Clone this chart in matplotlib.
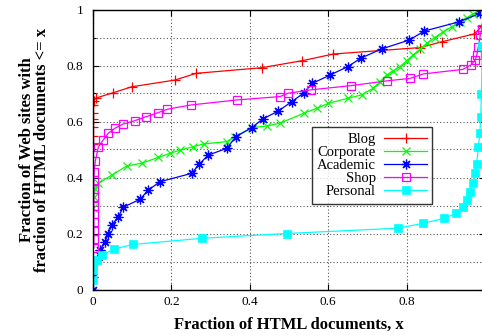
import matplotlib
matplotlib.use("Agg")
import matplotlib.pyplot as plt
from matplotlib.ticker import MultipleLocator

plt.rcParams['font.family'] = ['Liberation Serif', 'DejaVu Serif']

# ---- data ----
blog_x = [0, 0, 0, 0, 0, 0, 0.002, 0.008, 0.052, 0.099, 0.209, 0.263, 0.430,
          0.533, 0.613, 0.834, 0.891, 0.973, 0.992, 1.0]
blog_y = [0.52, 0.55, 0.58, 0.61, 0.63, 0.66, 0.675, 0.684, 0.703, 0.724, 0.748,
          0.772, 0.792, 0.817, 0.841, 0.864, 0.885, 0.913, 0.94, 1.0]

corp_x = [0, 0.002, 0.006, 0.014, 0.048, 0.086, 0.124, 0.167, 0.196, 0.222, 0.256,
          0.283, 0.341, 0.362, 0.405, 0.443, 0.477, 0.537, 0.571, 0.600, 0.651,
          0.685, 0.715, 0.732, 0.749, 0.766, 0.783, 0.800, 0.817, 0.834, 0.851,
          0.872, 0.894, 0.915, 0.936, 0.953, 0.970, 0.987, 1.0]
corp_y = [0.29, 0.33, 0.36, 0.379, 0.409, 0.441, 0.451, 0.472, 0.486, 0.498, 0.51,
          0.52, 0.528, 0.546, 0.578, 0.584, 0.594, 0.629, 0.647, 0.665, 0.683,
          0.695, 0.719, 0.742, 0.766, 0.781, 0.796, 0.817, 0.838, 0.858, 0.879,
          0.90, 0.921, 0.938, 0.956, 0.97, 0.984, 0.989, 1.0]

acad_x = [0, 0.001, 0.009, 0.018, 0.031, 0.039, 0.048, 0.065, 0.077, 0.12, 0.141,
          0.171, 0.252, 0.271, 0.294, 0.341, 0.365, 0.405, 0.433, 0.473, 0.507,
          0.537, 0.559, 0.605, 0.650, 0.683, 0.736, 0.807, 0.845, 0.934, 0.987, 1.0]
acad_y = [0.0, 0.046, 0.105, 0.141, 0.171, 0.2, 0.23, 0.26, 0.294, 0.322, 0.355,
          0.385, 0.415, 0.448, 0.48, 0.504, 0.546, 0.578, 0.609, 0.6375, 0.671,
          0.701, 0.736, 0.766, 0.796, 0.826, 0.859, 0.891, 0.923, 0.956, 0.986, 1.0]

shop_x = [0.002, 0.002, 0.002, 0.002, 0.002, 0.002, 0.002, 0.002, 0.002, 0.003,
          0.006, 0.014, 0.026, 0.039, 0.056, 0.077, 0.107, 0.135, 0.165, 0.19,
          0.25, 0.367, 0.477, 0.498, 0.555, 0.658, 0.749, 0.809, 0.843, 0.943,
          0.964, 0.975, 0.979, 0.983, 0.988, 0.992, 1.0]
shop_y = [0.15, 0.18, 0.21, 0.24, 0.27, 0.30, 0.33, 0.36, 0.39, 0.42,
          0.46, 0.51, 0.534, 0.558, 0.576, 0.591, 0.603, 0.617, 0.631, 0.644,
          0.659, 0.677, 0.689, 0.701, 0.713, 0.728, 0.745, 0.754, 0.77, 0.786,
          0.802, 0.82, 0.837, 0.867, 0.909, 0.93, 1.0]

pers_x = [0, 0, 0.001, 0.01, 0.023, 0.054, 0.103, 0.279, 0.494, 0.779, 0.841, 0.896,
          0.926, 0.945, 0.953, 0.962, 0.97, 0.974, 0.979, 0.983, 0.987, 0.989,
          0.991, 0.993, 1.0]
pers_y = [0.035, 0.07, 0.0875, 0.105, 0.123, 0.145, 0.161, 0.183, 0.2, 0.219, 0.236,
          0.254, 0.272, 0.296, 0.32, 0.349, 0.379, 0.415, 0.45, 0.51, 0.558, 0.617,
          0.7, 0.87, 1.0]

x_ticks = [0, 0.2, 0.4, 0.6, 0.8]
x_tick_labels = ['0', '0.2', '0.4', '0.6', '0.8']
y_ticks = [0, 0.2, 0.4, 0.6, 0.8, 1]
y_tick_labels = ['0', '0.2', '0.4', '0.6', '0.8', '1']

# ---- figure ----
W, H = 482, 336
fig = plt.figure(figsize=(W / 100, H / 100), dpi=100)
ax = fig.add_axes([93 / W, (H - 289.5) / H, 392 / W, 280 / H])

lw = 0.9
ax.plot(blog_x, blog_y, color='#ff0000', lw=lw, marker='+', ms=7, mew=0.9, label='Blog')
ax.plot(corp_x, corp_y, color='#00ff00', lw=lw, marker='x', ms=5.5, mew=0.9, label='Corporate')
ax.plot(acad_x, acad_y, color='#0000ff', lw=lw, marker=(8, 2, 0), ms=7, mew=0.9, label='Academic')
ax.plot(shop_x, shop_y, color='#ff00ff', lw=lw, marker='s', ms=6, mew=0.9,
        markerfacecolor='none', label='Shop')
ax.plot(pers_x, pers_y, color='#00ffff', lw=lw, marker='s', ms=6, mew=0.5, label='Personal')

ax.set_xlim(0, 1)
ax.set_ylim(0, 1)
ax.set_xticks(x_ticks)
ax.set_xticklabels(x_tick_labels)
ax.set_yticks(y_ticks)
ax.set_yticklabels(y_tick_labels)
ax.yaxis.set_minor_locator(MultipleLocator(0.1))

ax.tick_params(which='both', direction='in', top=True, right=True, labelsize=9.5,
               width=0.8, color='black')
ax.tick_params(which='major', length=4)
ax.tick_params(which='minor', length=2.5)
ax.tick_params(axis='y', pad=7)
ax.tick_params(axis='x', pad=5)

ax.grid(True, which='major', axis='both', color='#555555', linestyle=(0, (1, 2)), lw=0.8)
ax.grid(True, which='minor', axis='y', color='#555555', linestyle=(0, (1, 2)), lw=0.8)
ax.set_axisbelow(True)

for s in ax.spines.values():
    s.set_linewidth(1.0)
    s.set_color('black')

ax.set_xlabel('Fraction of HTML documents, x', fontsize=12, fontweight='bold', labelpad=6)
ax.set_ylabel('Fraction of Web sites with\nfraction of HTML documents <= x', fontsize=12,
              fontweight='bold', labelpad=12, linespacing=0.95)

leg = ax.legend(loc='upper left', bbox_to_anchor=((311.7 - 93) / 392, (289.5 - 127.3) / 280),
                fontsize=10.5, frameon=True, fancybox=False, edgecolor='black',
                markerfirst=False, handlelength=2.9, labelspacing=0.0,
                borderpad=0.35, handletextpad=0.6, borderaxespad=0)
leg.get_frame().set_linewidth(1.0)
for t in leg.get_texts():
    t.set_ha('right')
leg._legend_box.align = 'right'

fig.savefig('out.png', dpi=100)
